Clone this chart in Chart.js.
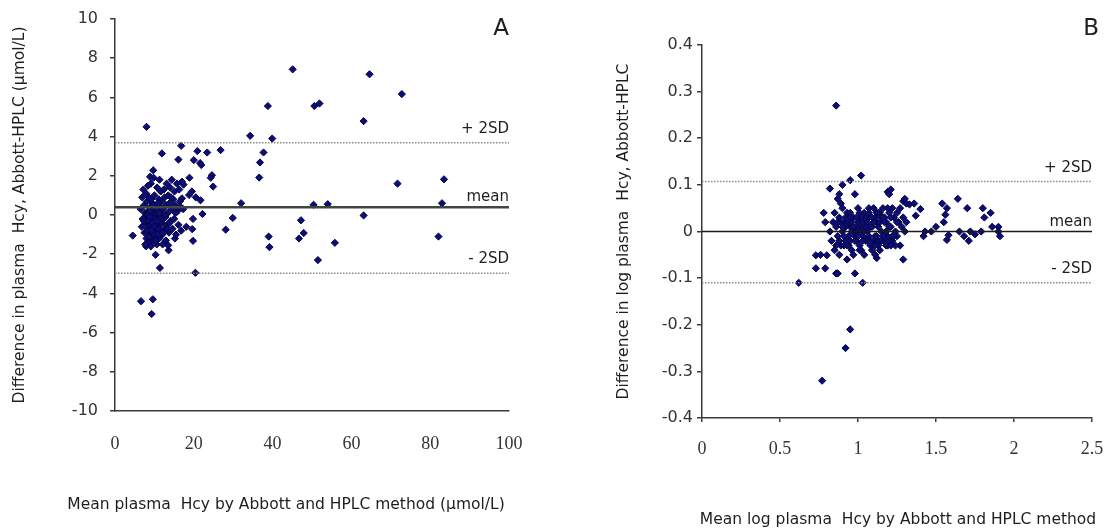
<!DOCTYPE html>
<html><head><meta charset="utf-8">
<script src="https://cdn.jsdelivr.net/npm/chart.js@4"></script>
<style>
html,body{margin:0;padding:0;background:#fff;width:1109px;height:529px;overflow:hidden}
canvas{position:absolute;top:0}
#ca{left:0}#cb{left:555px}
</style></head><body>
<canvas id="ca" width="555" height="529"></canvas>
<canvas id="cb" width="554" height="529"></canvas>
<script>
// ---------- Panel A data (mean Hcy µmol/L, difference Abbott-HPLC) ----------
const aX = [45.1,64.6,72.8,38.8,50.6,51.9,63.1,8.0,34.3,39.9,16.8,37.7,36.8,36.6,26.8,23.4,20.9,11.9,16.1,20.0,21.6,21.9,24.6,24.3,24.9,71.7,83.5,83.0,32.0,50.4,54.0,63.1,29.9,47.2,28.1,47.9,46.7,39.0,39.2,55.8,82.1,51.5,20.4,11.4,10.3,6.6,9.6,9.3,19.8,19.6,19.8,22.2,21.7,18.8,18.9,17.4,4.5,9.7,8.9,13.6,13.5,7.9,18.1,15.2,17.0,20.5,19.5,
6.5,6.8,7.0,7.2,7.4,7.5,7.6,7.8,7.9,8.0,8.1,8.2,8.3,8.4,8.5,8.6,8.7,8.8,8.9,9.0,9.1,9.2,9.3,9.4,9.5,9.6,9.7,9.8,9.9,10.0,10.1,10.2,10.3,10.4,10.5,10.6,10.7,10.8,10.9,11.0,11.1,11.2,11.3,11.4,11.5,11.6,11.7,11.8,11.9,12.0,12.2,12.3,12.4,12.5,12.6,12.8,12.9,13.0,13.1,13.2,13.4,13.5,13.7,13.8,14.0,14.1,14.3,14.4,14.6,14.8,15.0,15.1,15.3,15.5,15.7,15.9,16.1,16.3,16.5,16.8,17.0,17.3,6.9,7.7,8.4,9.1,9.8,10.6,11.3,12.1,8.0,9.0,10.0,8.6,9.5,10.4,11.7,7.3,12.7,13.9,
8.2,8.5,8.8,9.1,9.4,9.7,10.0,10.3,10.6,10.9,11.2,11.5,8.3,8.9,9.5,10.1,10.7,11.3,9.2,9.8,10.4,11.0,8.6,9.3,10.9,12.2,13.3,14.2,15.4,16.7];
const aY = [7.43,7.18,6.17,5.56,5.56,5.69,4.79,4.5,4.04,3.9,3.53,3.19,2.68,1.91,3.31,3.19,3.26,3.14,2.83,2.8,2.65,2.55,2.03,1.9,1.45,1.6,1.82,0.6,0.6,0.52,0.55,-0.02,-0.15,-0.27,-0.75,-0.92,-1.2,-1.1,-1.64,-1.42,-1.1,-2.3,-2.95,-2.7,-2.03,-4.4,-4.3,-5.05,-1.32,-0.72,-0.2,0.05,0.75,1.02,1.9,1.55,-1.05,2.28,1.95,-1.8,-1.55,-1.6,-0.6,-1.2,0.85,0.9,1.2,
0.3,-0.6,-0.2,1.3,0.5,-0.9,0.1,-0.4,1.1,-1.2,0.7,-0.1,-0.7,0.2,-1.4,0.9,-0.3,-0.9,0.4,-0.5,1.6,-1.0,0.0,-0.6,0.6,-0.2,-1.3,0.3,-0.8,1.0,-0.4,0.1,-1.1,0.5,-0.6,-0.1,1.4,-0.9,0.2,-0.3,0.8,-1.2,-0.5,0.4,-0.8,1.2,0.0,-0.4,0.7,-1.0,0.3,-0.2,1.3,-0.7,0.9,-0.1,-1.3,0.5,1.6,-0.5,0.1,1.0,-0.9,0.6,1.4,-0.3,0.3,1.8,-0.7,0.8,-0.2,1.2,0.5,-1.0,1.6,0.2,-0.5,1.3,0.7,-0.8,1.7,0.3,0.9,-1.5,1.5,-1.6,1.9,-1.5,1.8,-1.5,0.0,0.1,-0.2,-0.5,-0.9,-0.6,-0.9,-0.3,0.0,-0.4,
-0.8,-0.3,0.2,-1.1,-0.7,0.5,-0.9,-0.5,0.3,-0.7,0.0,-0.2,0.0,-0.1,-0.4,-1.0,-0.3,0.1,0.8,-0.6,-1.3,0.6,-1.1,-0.8,-1.0,-0.9,-0.7,0.9,0.1,0.4];
const aMean = 0.4, aUpper = 3.68, aLower = -2.97;
const aXTicks = [0,20,40,60,80,100];
const aYTicks = [-10,-8,-6,-4,-2,0,2,4,6,8,10];

// ---------- Panel B data (mean log Hcy, difference in log) ----------
const bX = [0.86,1.02,0.95,0.90,0.82,0.88,0.87,0.89,0.98,0.78,0.79,0.62,0.73,0.79,0.73,0.76,0.80,0.86,0.87,0.98,1.03,0.95,0.92,0.77,1.19,1.20,1.21,1.29,1.31,1.30,1.33,1.36,1.40,1.37,1.29,1.12,1.11,1.42,1.47,1.50,1.57,1.56,1.55,1.64,1.57,1.58,1.65,1.68,1.70,1.71,1.72,1.75,1.80,1.81,1.85,1.79,1.86,1.90,1.91,1.90,1.54,1.43,1.25,1.26,1.27,
0.82,0.83,0.84,0.85,0.86,0.87,0.88,0.89,0.90,0.91,0.92,0.93,0.94,0.95,0.96,0.97,0.98,0.99,1.00,1.01,1.02,1.03,1.04,1.05,1.06,1.07,1.08,1.09,1.10,1.11,1.12,1.13,1.14,1.15,1.16,1.17,1.18,1.19,1.20,1.21,1.22,1.23,1.24,1.25,1.28,1.30,0.85,0.88,0.90,0.93,0.95,0.97,1.00,1.02,1.04,1.07,1.09,1.12,1.14,1.17,1.19,1.22,0.91,0.94,0.96,0.99,1.01,1.03,1.06,1.08,1.11,1.13,1.16,1.18,0.86,0.92,0.98,1.05,1.10,1.15,1.20,1.24,0.89,0.95,1.01,1.07,1.13,1.21,
0.88,0.90,0.92,0.94,0.96,0.98,1.00,1.02,1.04,1.06,1.08,1.10,1.12,1.14,1.16,1.18,1.20,1.22,0.87,0.91,0.95,0.99,1.03,1.07,1.11,1.15,1.19,1.23,0.93,0.97,1.01,1.05,1.09,1.13,1.17,1.21,1.25,1.27,1.29,1.31];
const bY = [0.27,0.12,0.11,0.10,0.092,0.08,0.07,0.06,0.08,0.04,0.02,-0.11,-0.079,-0.079,-0.051,-0.05,-0.051,-0.09,-0.09,-0.09,-0.11,-0.21,-0.25,-0.32,0.085,0.08,0.09,0.065,0.06,0.07,0.058,0.06,0.048,0.034,-0.06,-0.057,-0.05,-0.01,0.0,0.01,0.05,0.036,0.02,0.07,-0.018,-0.008,0.0,-0.01,0.05,-0.02,0.0,-0.006,0.05,0.03,0.04,0.0,0.01,0.01,-0.01,0.0,0.06,0.0,-0.01,0.02,-0.03,
0.0,-0.02,0.02,-0.04,0.01,-0.01,0.03,-0.03,0.0,0.02,-0.02,0.04,-0.01,0.01,-0.04,0.03,0.0,-0.02,0.02,-0.03,0.01,-0.01,0.04,-0.02,0.0,0.03,-0.03,0.01,0.05,-0.01,0.02,-0.03,0.04,0.0,0.05,-0.02,0.02,-0.01,0.04,0.01,-0.02,0.03,0.0,0.04,0.01,0.0,0.04,-0.05,0.05,-0.06,0.04,-0.05,0.05,-0.04,-0.05,0.05,-0.04,0.04,-0.04,0.03,-0.03,0.05,-0.01,0.02,0.0,0.01,0.0,0.02,-0.02,0.01,0.03,0.01,-0.01,0.0,-0.03,0.01,-0.01,0.03,-0.02,0.03,-0.02,-0.03,0.02,-0.02,0.04,-0.01,-0.02,0.03,
-0.02,0.01,0.03,-0.03,0.02,-0.02,-0.01,0.03,0.0,0.02,-0.02,0.02,-0.01,0.02,0.03,-0.03,0.01,-0.01,0.02,-0.03,0.03,0.03,-0.02,0.04,-0.03,-0.02,0.05,-0.01,-0.03,0.01,-0.04,0.01,0.03,0.04,0.02,-0.03,0.02,0.05,0.03,0.02];
const bMean = 0.0, bUpper = 0.107, bLower = -0.11;
const bXTicks = [0,0.5,1,1.5,2,2.5];
const bYTicks = [-0.4,-0.3,-0.2,-0.1,0,0.1,0.2,0.3,0.4];

const SANS = '"DejaVu Sans", Verdana, sans-serif';
const SERIF = '"Liberation Serif", "Times New Roman", serif';

const annot = {
  id: 'annot',
  afterDatasetsDraw(chart, args, o) {
    const {ctx, scales: {x, y}} = chart;
    const xr = x.getPixelForValue(x.max);
    ctx.save();
    ctx.fillStyle = '#1e1e1e';
    ctx.textAlign = 'right';
    ctx.textBaseline = 'alphabetic';
    ctx.font = '15px ' + SANS;
    o.labels.forEach(l => ctx.fillText(l.text, xr, y.getPixelForValue(l.value) - l.gap));
    ctx.font = '23px ' + SANS;
    ctx.fillText(o.letter, xr + o.letterDx, 35);
    // x-axis title (drawn here so it is not squeezed to the plot width)
    ctx.font = '15.5px ' + SANS;
    ctx.textAlign = 'center';
    ctx.textBaseline = 'middle';
    ctx.fillText(o.xTitle, o.xTitleX, o.xTitleY);
    ctx.restore();
  }
};

function makeChart(id, cfg) {
  const pts = cfg.xs.map((v, i) => ({x: v, y: cfg.ys[i]}));
  const hline = (v) => [{x: cfg.xmin, y: v}, {x: cfg.xmax, y: v}];
  const refStyle = {type: 'line', pointRadius: 0, fill: false, borderWidth: 1.5, borderColor: '#8a8a8a', borderDash: [1.5, 1.5]};
  return new Chart(document.getElementById(id), {
    type: 'scatter',
    data: {datasets: [
      Object.assign({data: hline(cfg.upper)}, refStyle),
      Object.assign({data: hline(cfg.lower)}, refStyle),
      {type: 'line', data: hline(cfg.mean), pointRadius: 0, borderWidth: cfg.meanW, borderColor: cfg.meanC},
      {data: pts, pointStyle: 'rectRot', pointRadius: 3.6, backgroundColor: '#0c0c7c', borderColor: '#05053a', borderWidth: 1}
    ]},
    options: {
      responsive: false, animation: false, devicePixelRatio: 1,
      layout: {padding: cfg.pad},
      plugins: {legend: {display: false}, tooltip: {enabled: false},
        annot: {labels: [
          {text: '+ 2SD', value: cfg.upper, gap: 10},
          {text: 'mean', value: cfg.mean, gap: 6},
          {text: '- 2SD', value: cfg.lower, gap: 10}], letter: cfg.letter, letterDx: cfg.letterDx,
          xTitle: cfg.xTitle, xTitleX: cfg.xTitleX, xTitleY: cfg.xTitleY}},
      scales: {
        x: {type: 'linear', min: cfg.xmin, max: cfg.xmax,
          afterFit(s) { s.height = cfg.xh; s.paddingLeft = 0; s.paddingRight = 0; },
          afterBuildTicks(s) { s.ticks = cfg.xTicks.map(v => ({value: v})); },
          border: {display: true, color: '#3a3a3a', width: 1.5},
          grid: {display: cfg.xTickLen > 0, drawOnChartArea: false, drawTicks: cfg.xTickLen > 0, tickLength: cfg.xTickLen, color: '#3a3a3a', lineWidth: 1.5},
          ticks: {color: '#333', padding: cfg.xPad, maxRotation: 0, font: {family: SERIF, size: 18}, callback: v => String(v)},
          title: {display: false}
        },
        y: {type: 'linear', min: cfg.ymin, max: cfg.ymax,
          afterFit(s) { s.width = cfg.yw; s.paddingTop = 0; s.paddingBottom = 0; },
          afterBuildTicks(s) { s.ticks = cfg.yTicks.map(v => ({value: v})); },
          border: {display: true, color: '#3a3a3a', width: 1.5},
          grid: {display: true, drawOnChartArea: false, drawTicks: true, tickLength: 5, color: '#3a3a3a', lineWidth: 1.5},
          ticks: {color: '#333', padding: cfg.yPad, font: {family: SANS, size: 16}, callback: v => String(v)},
          title: {display: true, text: cfg.yTitle, color: '#1e1e1e', font: {family: SANS, size: 15.5}, padding: {top: cfg.yTitlePad, bottom: 0}}
        }
      }
    },
    plugins: [annot]
  });
}

makeChart('ca', {
  xs: aX, ys: aY, mean: aMean, upper: aUpper, lower: aLower,
  xmin: 0, xmax: 100, ymin: -10, ymax: 10, xTicks: aXTicks, yTicks: aYTicks,
  pad: {left: 0, right: 46, top: 19, bottom: 0}, xh: 118, yw: 115,
  xTickLen: 0, xPad: 22, yPad: 12, yTitlePad: 11,
  meanW: 2.5, meanC: '#43463d', letter: 'A', letterDx: 0,
  xTitle: 'Mean plasma  Hcy by Abbott and HPLC method (μmol/L)', xTitleX: 286, xTitleY: 505,
  yTitle: 'Difference in plasma  Hcy, Abbott-HPLC (μmol/L)'
});
makeChart('cb', {
  xs: bX, ys: bY, mean: bMean, upper: bUpper, lower: bLower,
  xmin: 0, xmax: 2.5, ymin: -0.4, ymax: 0.4, xTicks: bXTicks, yTicks: bYTicks,
  pad: {left: 0, right: 17, top: 45, bottom: 0}, xh: 111, yw: 147,
  xTickLen: 4, xPad: 16, yPad: 4, yTitlePad: 60,
  meanW: 1.5, meanC: '#1a1a1a', letter: 'B', letterDx: 7,
  xTitle: 'Mean log plasma  Hcy by Abbott and HPLC method', xTitleX: 343, xTitleY: 520,
  yTitle: 'Difference in log plasma  Hcy, Abbott-HPLC'
});
</script>
</body></html>
